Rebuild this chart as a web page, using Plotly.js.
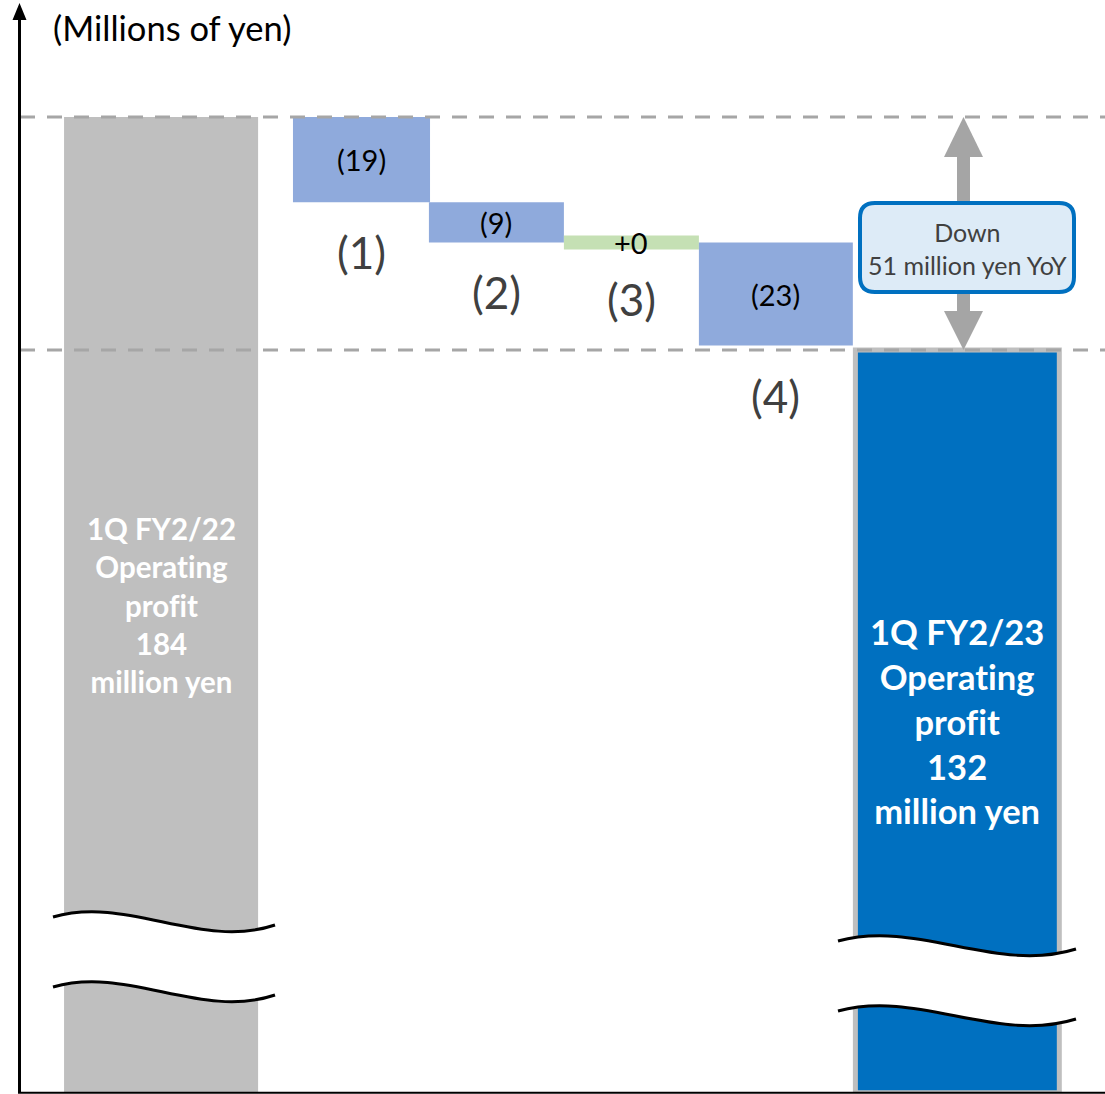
<!DOCTYPE html>
<html>
<head>
<meta charset="utf-8">
<script src="https://cdn.plot.ly/plotly-3.0.1.min.js"></script>
<style>
  html, body { margin: 0; padding: 0; background: #fff; }
  #chart { width: 1105px; height: 1094px; }
  #chart text { font-variant-ligatures: none; font-feature-settings: "liga" 0; }
</style>
</head>
<body>
<div id="chart"></div>
<script>
// Operating profit bridge, 1Q FY2/22 -> 1Q FY2/23 (millions of yen)
const categories = ['1Q FY2/22', '(1)', '(2)', '(3)', '(4)', '1Q FY2/23'];
const startProfit = 184;
const endProfit = 132;
const changes = [-19, -9, 0, -23];
const yoyDown = 51;
const unitLabel = '(Millions of yen)';

// Figure geometry (pixels) and slot layout for each bar (category units)
const W = 1105, H = 1094;
const slotOffset = [-0.609, -0.171, -0.317, -0.469, -0.621, -0.638];
const slotWidth  = [1.219, 0.861, 0.848, 0.848, 0.967, 1.281];

const fx = x => x / W;
const fy = y => 1 - y / H;
const pt = (x, y) => fx(x) + ',' + fy(y);

// Waterfall geometry built from the values
const bases = [0], heights = [startProfit], mids = [null], lows = [null];
let level = startProfit;
changes.forEach(c => {
  const next = level + c;
  const lo = Math.min(level, next);
  bases.push(lo);
  heights.push(Math.abs(c));
  mids.push(lo + Math.abs(c) / 2);
  lows.push(lo);
  level = next;
});
bases.push(0);
heights.push(endProfit);

const barColors = ['#BFBFBF'].concat(changes.map(c => c < 0 ? '#8FAADC' : '#C5E0B4'), ['#0070C0']);
const lineColors = ['#BFBFBF'].concat(changes.map(c => c < 0 ? '#8FAADC' : '#C5E0B4'), ['#BFBFBF']);
const lineWidths = [0].concat(changes.map(c => c === 0 ? 14 : 0), [5]);

function barTrace(yaxis) {
  return {
    type: 'bar',
    x: categories,
    y: heights,
    base: bases,
    offset: slotOffset,
    width: slotWidth,
    xaxis: 'x',
    yaxis: yaxis,
    marker: { color: barColors, line: { color: lineColors, width: lineWidths } },
    hoverinfo: 'skip',
    showlegend: false
  };
}

const data = [barTrace('y'), barTrace('y2')];

const FONT = 'Lato, "Open Sans", sans-serif';
const slotCenter = i => i + slotOffset[i] + slotWidth[i] / 2;
const fmtChange = c => c < 0 ? '(' + (-c) + ')' : '+' + c;

const annotations = [];
annotations.push({
  xref: 'paper', yref: 'paper', x: fx(51), y: fy(27),
  xanchor: 'left', yanchor: 'middle', showarrow: false,
  text: unitLabel, font: { family: FONT, size: 34.5, color: '#000' }
});

changes.forEach((c, k) => {
  const i = k + 1;
  annotations.push({
    xref: 'x', yref: 'y', x: slotCenter(i), y: mids[i],
    xanchor: 'center', yanchor: 'middle', showarrow: false,
    text: fmtChange(c), font: { family: FONT, size: 29, color: '#000' }
  });
  annotations.push({
    xref: 'x', yref: 'y', x: slotCenter(i), y: lows[i],
    xanchor: 'center', yanchor: 'middle', showarrow: false,
    yshift: c === 0 ? -57 : -50,
    text: categories[i], font: { family: FONT, size: 44, color: '#404040' }
  });
});

annotations.push({
  xref: 'x', yref: 'paper', x: slotCenter(0), y: fy(605),
  xanchor: 'center', yanchor: 'middle', showarrow: false,
  text: '<b>' + categories[0] + '<br>Operating<br>profit<br>' + startProfit + '<br>million yen</b>',
  font: { family: FONT, size: 29.5, color: '#fff' }
});
annotations.push({
  xref: 'x', yref: 'paper', x: slotCenter(5), y: fy(721),
  xanchor: 'center', yanchor: 'middle', showarrow: false,
  text: '<b>' + categories[5] + '<br>Operating<br>profit<br>' + endProfit + '<br>million yen</b>',
  font: { family: FONT, size: 34.5, color: '#fff' }
});
annotations.push({
  xref: 'paper', yref: 'paper', x: fx(967), y: fy(249),
  xanchor: 'center', yanchor: 'middle', showarrow: false,
  text: 'Down<br>' + yoyDown + ' million yen YoY',
  font: { family: FONT, size: 25, color: '#404040' }
});

// Shapes: axes, reference lines, axis breaks, YoY arrow and callout
const shapes = [];
const dash = { color: '#A6A6A6', width: 3, dash: '15px,12px' };
[startProfit, endProfit].forEach(v => shapes.push({
  type: 'line', xref: 'paper', yref: 'y', x0: fx(20), x1: 1, y0: v, y1: v,
  line: dash, layer: 'above'
}));

// y axis with arrow head, x axis baseline
shapes.push({ type: 'line', xref: 'paper', yref: 'paper', x0: fx(19.5), x1: fx(19.5), y0: fy(1093), y1: fy(16), line: { color: '#000', width: 3 } });
shapes.push({ type: 'path', xref: 'paper', yref: 'paper', path: 'M' + pt(19.5, 3) + ' L' + pt(12.5, 20) + ' L' + pt(26.5, 20) + ' Z', fillcolor: '#000', line: { width: 0 } });
shapes.push({ type: 'line', xref: 'paper', yref: 'paper', x0: fx(18), x1: 1, y0: fy(1092.7), y1: fy(1092.7), line: { color: '#000', width: 2 }, layer: 'above' });

// axis-break bands drawn across the two total bars
function wavePts(x0, y0, x1) {
  const w = x1 - x0;
  return {
    s: [x0, y0], c1: [x0 + w / 3, y0 - 22], c2: [x0 + 2 * w / 3, y0 + 33], e: [x1, y0 + 8]
  };
}
function breakShapes(x0, y0, x1, gap) {
  const a = wavePts(x0, y0, x1), b = wavePts(x0, y0 + gap, x1);
  const P = p => pt(p[0], p[1]);
  const band = 'M' + P(a.s) + ' C' + P(a.c1) + ' ' + P(a.c2) + ' ' + P(a.e) +
    ' L' + P(b.e) + ' C' + P(b.c2) + ' ' + P(b.c1) + ' ' + P(b.s) + ' Z';
  const top = 'M' + P(a.s) + ' C' + P(a.c1) + ' ' + P(a.c2) + ' ' + P(a.e);
  const bot = 'M' + P(b.s) + ' C' + P(b.c1) + ' ' + P(b.c2) + ' ' + P(b.e);
  return [
    { type: 'path', xref: 'paper', yref: 'paper', path: band, fillcolor: '#fff', line: { width: 0 }, layer: 'above' },
    { type: 'path', xref: 'paper', yref: 'paper', path: top, fillcolor: 'rgba(0,0,0,0)', line: { color: '#000', width: 3 }, layer: 'above' },
    { type: 'path', xref: 'paper', yref: 'paper', path: bot, fillcolor: 'rgba(0,0,0,0)', line: { color: '#000', width: 3 }, layer: 'above' }
  ];
}
breakShapes(53, 917, 275, 70).forEach(s => shapes.push(s));
breakShapes(838, 941, 1076, 70).forEach(s => shapes.push(s));

// double-headed YoY arrow
const ax = 963.5, arrowGray = '#A5A5A5';
shapes.push({ type: 'rect', xref: 'paper', yref: 'paper', x0: fx(957), x1: fx(970), y0: fy(150), y1: fy(318), fillcolor: arrowGray, line: { width: 0 }, layer: 'above' });
shapes.push({ type: 'path', xref: 'paper', yref: 'paper', path: 'M' + pt(ax, 117) + ' L' + pt(ax + 19.5, 157) + ' L' + pt(ax - 19.5, 157) + ' Z', fillcolor: arrowGray, line: { width: 0 }, layer: 'above' });
shapes.push({ type: 'path', xref: 'paper', yref: 'paper', path: 'M' + pt(ax, 350) + ' L' + pt(ax + 19.5, 311) + ' L' + pt(ax - 19.5, 311) + ' Z', fillcolor: arrowGray, line: { width: 0 }, layer: 'above' });

// rounded callout box
(function () {
  const x0 = 860, x1 = 1074, y0 = 203, y1 = 292, r = 15;
  const path = 'M' + pt(x0 + r, y0) + ' L' + pt(x1 - r, y0) + ' Q' + pt(x1, y0) + ' ' + pt(x1, y0 + r) +
    ' L' + pt(x1, y1 - r) + ' Q' + pt(x1, y1) + ' ' + pt(x1 - r, y1) +
    ' L' + pt(x0 + r, y1) + ' Q' + pt(x0, y1) + ' ' + pt(x0, y1 - r) +
    ' L' + pt(x0, y0 + r) + ' Q' + pt(x0, y0) + ' ' + pt(x0 + r, y0) + ' Z';
  shapes.push({ type: 'path', xref: 'paper', yref: 'paper', path: path, fillcolor: '#DDEBF7', line: { color: '#0070C0', width: 4 }, layer: 'above' });
})();

const hidden = { showgrid: false, zeroline: false, showticklabels: false, ticks: '', showline: false, fixedrange: true };

const layout = {
  width: W, height: H,
  margin: { l: 0, r: 0, t: 0, b: 0, pad: 0 },
  paper_bgcolor: '#fff', plot_bgcolor: 'rgba(0,0,0,0)',
  showlegend: false,
  bargap: 0,
  xaxis: Object.assign({ type: 'category', range: [-0.892, 5.930], domain: [fx(19), 1], anchor: 'y2' }, hidden),
  yaxis: Object.assign({ range: [2.57, 210.11], domain: [fy(930), 1], anchor: 'x' }, hidden),
  yaxis2: Object.assign({ range: [0, 30], domain: [fy(1092.7), fy(930)], anchor: 'x' }, hidden),
  shapes: shapes,
  annotations: annotations
};

Plotly.newPlot('chart', data, layout, { displayModeBar: false, staticPlot: true });
</script>
</body>
</html>
